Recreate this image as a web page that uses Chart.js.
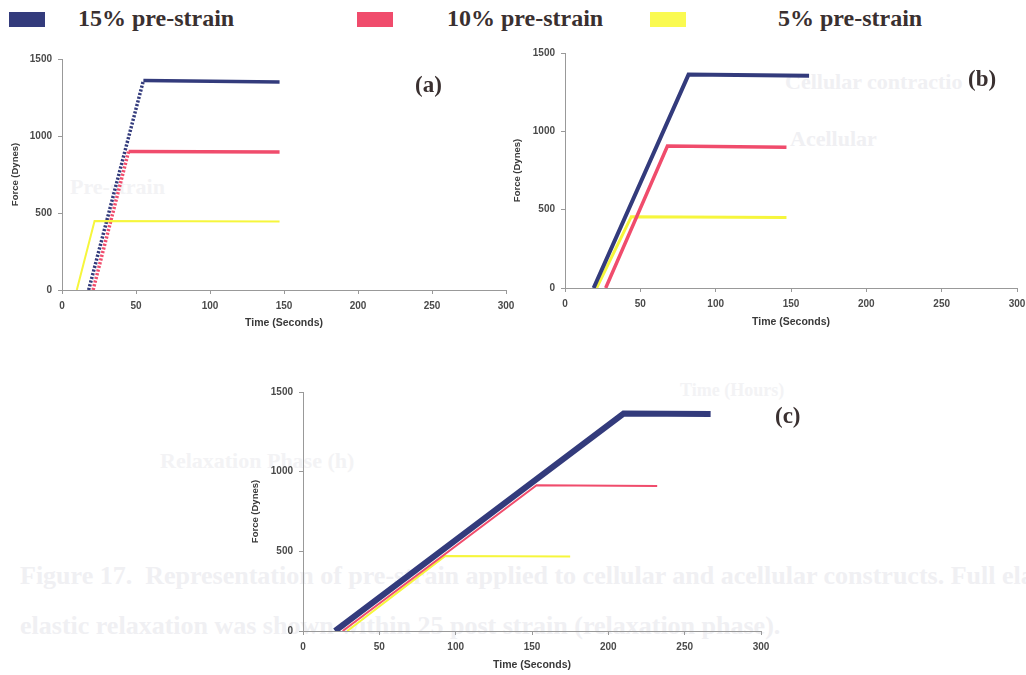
<!DOCTYPE html>
<html>
<head>
<meta charset="utf-8">
<script src="https://cdn.jsdelivr.net/npm/chart.js@4.4.1/dist/chart.umd.min.js"></script>
<style>
  html, body { margin: 0; padding: 0; background: #fff; }
  body { width: 1026px; height: 675px; position: relative; overflow: hidden; }
  .box { position: absolute; }
  .serif { position: absolute; font-family: "Liberation Serif", "Times New Roman", serif; font-weight: bold; white-space: nowrap; }
  .sw { position: absolute; height: 15px; }
  .ghost { position: absolute; font-family: "Liberation Serif", serif; font-weight: bold; color: #f0f0f3; font-size: 22px; white-space: nowrap; }
</style>
</head>
<body>

<!-- faint bleed-through text from the scanned page -->
<div class="ghost" style="left:785px;top:69px;">Cellular contractio</div>
<div class="ghost" style="left:790px;top:126px;">Acellular</div>
<div class="ghost" style="left:70px;top:174px;color:#f3f3f5;">Pre-strain</div>
<div class="ghost" style="left:160px;top:448px;color:#f3f3f5;">Relaxation Phase (h)</div>
<div class="ghost" style="left:680px;top:380px;font-size:18px;color:#f3f3f5;">Time (Hours)</div>
<div class="ghost" style="left:20px;top:561px;font-size:26px;">Figure 17.&nbsp; Representation of pre-strain applied to cellular and acellular constructs. Full elastic</div>
<div class="ghost" style="left:20px;top:611px;font-size:26px;">elastic relaxation was shown within 25 post strain (relaxation phase).</div>

<div class="box" style="left:0;top:40px;width:530px;height:300px;"><canvas id="chartA" width="530" height="300"></canvas></div>
<div class="box" style="left:510px;top:35px;width:540px;height:300px;"><canvas id="chartB" width="540" height="300"></canvas></div>
<div class="box" style="left:240px;top:375px;width:540px;height:300px;"><canvas id="chartC" width="540" height="300"></canvas></div>

<!-- legend -->
<div class="sw" style="left:9px;top:12px;width:36px;background:#333b7c;"></div>
<div class="serif" style="left:78px;top:5px;font-size:24px;color:#3a3030;">15% pre-strain</div>
<div class="sw" style="left:357px;top:12px;width:36px;background:#f04c6c;"></div>
<div class="serif" style="left:447px;top:5px;font-size:24px;color:#3a3030;">10% pre-strain</div>
<div class="sw" style="left:650px;top:12px;width:36px;background:#fafa50;"></div>
<div class="serif" style="left:778px;top:5px;font-size:24px;color:#3a3030;">5% pre-strain</div>

<!-- panel letters -->
<div class="serif" style="left:415px;top:72px;font-size:23px;color:#3a3030;">(a)</div>
<div class="serif" style="left:968px;top:66px;font-size:23px;color:#3a3030;">(b)</div>
<div class="serif" style="left:775px;top:403px;font-size:23px;color:#3a3030;">(c)</div>

<script>
const SERIES_LABELS = ["15% pre-strain", "10% pre-strain", "5% pre-strain"];
const SERIES_COLORS = ["#333b7c", "#f04c6c", "#f6f63c"];
const X_TICKS = [0, 50, 100, 150, 200, 250, 300];
const Y_TICKS = [0, 500, 1000, 1500];

/* (a) */
const timeA15 = [18, 55, 147];
const forceA15 = [0, 1360, 1350];
const timeA10 = [21, 45, 147];
const forceA10 = [0, 900, 896];
const timeA5 = [10, 22, 147];
const forceA5 = [0, 448, 444];

/* (b) */
const timeB15 = [19, 82, 162];
const forceB15 = [0, 1362, 1354];
const timeB10 = [27, 68, 147];
const forceB10 = [0, 906, 898];
const timeB5 = [21, 44, 147];
const forceB5 = [0, 455, 450];

/* (c) */
const timeC15 = [21, 210, 267];
const forceC15 = [0, 1365, 1362];
const timeC10 = [26, 153, 232];
const forceC10 = [0, 915, 910];
const timeC5 = [29, 93, 175];
const forceC5 = [0, 470, 467];

const pts = (xs, ys) => xs.map((x, i) => ({ x, y: ys[i] }));

const tickFont = { family: "Arial, 'Liberation Sans', sans-serif", size: 10, weight: "bold" };

function makeChart(id, sets, lay) {
    const ctx = document.getElementById(id);
    return new Chart(ctx, {
        type: "line",
        data: {
            datasets: sets.map((s) => ({
                label: SERIES_LABELS[s.k],
                data: pts(s.t, s.f),
                borderColor: SERIES_COLORS[s.k],
                borderWidth: s.w,
                pointRadius: 0,
                tension: 0,
                order: s.order,
                borderCapStyle: "butt",
                segment: s.dotRamp ? { borderDash: (c) => (c.p0DataIndex === 0 ? [2.2, 1.6] : undefined) } : undefined,
            })),
        },
        options: {
            responsive: false,
            animation: false,
            events: [],
            layout: { padding: { top: lay.top, right: lay.right, left: 0, bottom: 0 } },
            scales: {
                x: {
                    type: "linear",
                    min: 0,
                    max: 300,
                    afterBuildTicks: (ax) => { ax.ticks = X_TICKS.map((v) => ({ value: v })); },
                    afterFit: (ax) => { ax.height = lay.xh; },
                    grid: { drawOnChartArea: false, drawTicks: true, tickLength: 4, color: "#999" },
                    border: { color: "#999", width: 1 },
                    ticks: { font: tickFont, color: "#4a4a4a", padding: 6, maxRotation: 0, callback: (v) => String(v) },
                    title: {
                        display: true,
                        text: "Time (Seconds)",
                        font: { ...tickFont, size: 10.5 },
                        color: "#3a3a3a",
                        padding: { top: 0, bottom: lay.xtp },
                    },
                },
                y: {
                    min: 0,
                    max: 1500,
                    afterBuildTicks: (ax) => { ax.ticks = Y_TICKS.map((v) => ({ value: v })); },
                    afterFit: (ax) => { ax.width = lay.yw; },
                    grid: { drawOnChartArea: false, drawTicks: true, tickLength: 4, color: "#999" },
                    border: { color: "#999", width: 1 },
                    ticks: { font: tickFont, color: "#4a4a4a", padding: 6, callback: (v) => String(v) },
                    title: {
                        display: true,
                        text: "Force (Dynes)",
                        font: { ...tickFont, size: 9.5 },
                        color: "#3a3a3a",
                        padding: { top: lay.ytp, bottom: 0 },
                    },
                },
            },
            plugins: { legend: { display: false }, tooltip: { enabled: false } },
        },
    });
}

makeChart("chartA", [
    { k: 0, t: timeA15, f: forceA15, w: 3.5, order: 3, dotRamp: true },
    { k: 1, t: timeA10, f: forceA10, w: 3.5, order: 2, dotRamp: true },
    { k: 2, t: timeA5, f: forceA5, w: 2, order: 1 },
], { top: 19, right: 24, xh: 50, yw: 62, xtp: 11, ytp: 10 });

makeChart("chartB", [
    { k: 0, t: timeB15, f: forceB15, w: 4, order: 1 },
    { k: 1, t: timeB10, f: forceB10, w: 3.5, order: 2 },
    { k: 2, t: timeB5, f: forceB5, w: 3, order: 3 },
], { top: 18, right: 33, xh: 47, yw: 55, xtp: 7, ytp: 2 });

makeChart("chartC", [
    { k: 0, t: timeC15, f: forceC15, w: 6, order: 1 },
    { k: 1, t: timeC10, f: forceC10, w: 2, order: 2 },
    { k: 2, t: timeC5, f: forceC5, w: 2, order: 3 },
], { top: 17, right: 19, xh: 44, yw: 63, xtp: 4, ytp: 10 });
</script>
</body>
</html>
